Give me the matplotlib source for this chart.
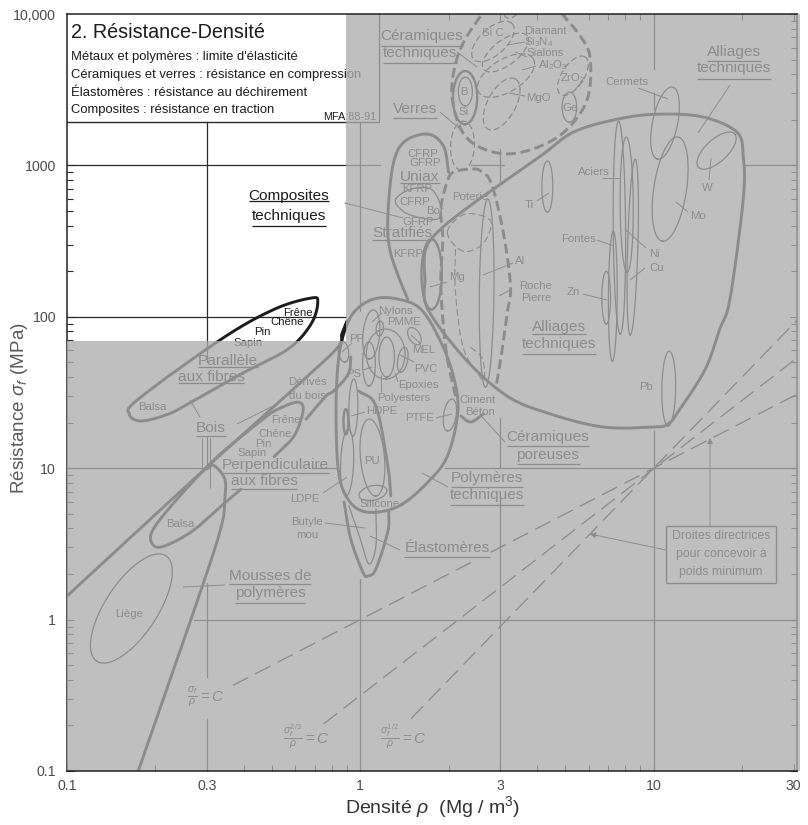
#!/usr/bin/env python3
"""Ashby map, strength against density, drawn on log-log axes and saved to out.png."""

import matplotlib

matplotlib.use("Agg")
import matplotlib.pyplot as plt
import numpy as np
from matplotlib.ticker import NullFormatter

plt.rcParams["font.family"] = ["Liberation Sans", "DejaVu Sans"]
plt.rcParams["mathtext.fontset"] = "custom"
plt.rcParams["mathtext.rm"] = "Liberation Sans"
plt.rcParams["mathtext.it"] = "Liberation Sans:italic"

W, H = 808, 825
INK = "#1c1c1c"

# axis values
X_MAJOR = [0.1, 0.3, 1, 3, 10, 30]
X_LABELS = ["0.1", "0.3", "1", "3", "10", "30"]
X_MINOR = [0.2, 0.4, 0.5, 0.6, 0.7, 0.8, 0.9, 2, 4, 5, 6, 7, 8, 9, 20]
Y_MAJOR = [0.1, 1, 10, 100, 1000, 10000]
Y_LABELS = ["0.1", "1", "10", "100", "1000", "10,000"]
XLIM = (0.1, 30.8)
YLIM = (0.1, 10000)

# class envelopes, (density Mg/m3, strength MPa)
WOOD_PARALLEL = [(0.163, 22.8), (0.179, 20.5), (0.222, 22.8), (0.265, 27.3), (0.392, 41.9),
                 (0.567, 61.2), (0.679, 89.5), (0.716, 125), (0.679, 133), (0.508, 112),
                 (0.336, 71.3), (0.175, 28.6)]
WOOD_PERP = [(0.508, 11.9), (0.594, 16.3), (0.638, 23.9), (0.613, 27.3), (0.525, 24.6),
             (0.466, 21.1), (0.349, 13.4), (0.295, 9.87), (0.232, 5.95), (0.197, 3.97),
             (0.194, 3.25), (0.21, 3.02), (0.265, 3.79), (0.336, 5.64), (0.392, 7.27)]
FOAM_LEFT = [(0.1, 1.43), (0.295, 9.87), (0.628, 37.1), (0.838, 62.9), (0.865, 76.9), (0.9, 93.7)]
FOAM_RIGHT = [(0.175, 0.1), (0.287, 1.59), (0.336, 4.15), (0.345, 6.25), (0.345, 8.47),
              (0.317, 10.4), (0.3, 9.87)]
WOOD_PRODUCTS = [(0.653, 21.1), (0.763, 29.9), (0.81, 32.3), (0.91, 41.9), (0.928, 54.3)]
POLYMERS = [(1.39, 5.79), (1.15, 5.13), (0.98, 5.37), (0.88, 6.95), (0.838, 10.4), (0.826, 23.5),
            (0.838, 47.3), (0.873, 74.7), (0.95, 107), (1.11, 131), (1.34, 131), (1.61, 112),
            (1.88, 68.3), (2.08, 40), (2.15, 23.5), (1.98, 12), (1.7, 8.1)]
ELASTOMERS = [(0.88, 5.98), (0.928, 3.4), (1.02, 2.06), (1.06, 1.94), (1.13, 2.16), (1.24, 3.79),
              (1.25, 5.13)]
BUTYL = [(0.914, 5.64), (1.0, 3.4), (1.07, 2.33), (1.13, 3.06), (1.13, 5.37)]
HDPE_ARC = [(0.99, 32.3), (1.13, 25.7), (1.24, 10.4), (1.27, 6.55)]
METALS = [(1.7, 112), (1.66, 177), (1.67, 280), (1.88, 380), (2.41, 556), (2.78, 676), (4.11, 1150),
          (5.33, 1660), (7.52, 2020), (10.3, 2180), (14.7, 2090), (19.2, 1660), (20.2, 1150),
          (20.2, 600), (18.2, 131), (16.8, 83), (15, 45.2), (12.3, 24.6), (11.2, 19.6),
          (9.96, 18.7), (6.73, 18.7), (4.45, 22.8), (3.17, 29.9), (2.28, 52.6)]
COMPOSITES = [(1.45, 131), (1.34, 191), (1.26, 280), (1.24, 442), (1.29, 989), (1.41, 1430),
              (1.7, 1610), (1.92, 1340), (2.0, 904)]
UNIAX_LENS = [(1.32, 600), (1.49, 698), (1.74, 698), (1.88, 538), (1.83, 442), (1.52, 463), (1.37, 515)]
CERAMICS = [(2.74, 11600), (2.25, 6530), (2.08, 4130), (2.06, 2740), (2.2, 1740), (2.51, 1340),
            (3.17, 1190), (4.11, 1340), (5.08, 1740), (5.94, 2740), (6.08, 5040), (5.62, 7150),
            (4.55, 11600)]
POROUS = [(2.11, 29.9), (1.98, 52.6), (1.91, 96.6), (1.88, 177), (1.91, 326), (1.88, 515),
          (1.98, 787), (2.08, 904), (2.38, 946), (2.57, 918), (2.8, 753), (3.07, 363),
          (3.25, 160), (3.17, 107), (3.01, 52.6), (2.89, 33.3)]
CEMENT = [(2.2, 22.1), (2.38, 20.2), (2.63, 22.8)]
POTTERY = [(1.98, 363), (2.28, 477), (2.78, 430), (2.61, 302), (2.23, 272)]
ROCK_LEFT = [(2.11, 280), (2.11, 146), (2.25, 61.2), (2.63, 37.1)]
ROCK_RIGHT = [(2.38, 62.9), (2.61, 52.6), (2.66, 37.1)]

# material bubbles: tip density, tip strength, other tip density, other tip strength, width / length
BUBBLES_THIN = [
    (0.218, 2.63, 0.126, 0.533, 0.42),  # Liege
    (4.34, 1070, 4.34, 491, 0.22),  # Ti
    (7.59, 1960, 7.69, 76.9, 0.06),  # Aciers
    (8.06, 1540, 8.12, 197, 0.1),  # Ni
    (8.65, 1100, 8.32, 75.7, 0.06),  # Cu
    (7.28, 368, 7.23, 51, 0.07),  # Fontes
    (6.89, 200, 6.89, 89.5, 0.17),  # Zn
    (12.1, 1540, 10.7, 316, 0.32),  # Mo
    (11.6, 3290, 10.3, 1100, 0.35),  # Cermets
    (14.2, 974, 18.9, 1610, 0.45),  # W
    (11.3, 59.3, 11.2, 19, 0.19),  # Pb
    (2.72, 600, 2.67, 34.3, 0.08),  # Al
    (2.28, 3830, 2.28, 2470, 0.5),  # B
    (5.16, 3050, 5.16, 1930, 0.5),  # Ge
    (1.11, 111, 1.07, 52.6, 0.35),  # Nylons
    (1.17, 93.7, 1.16, 74.7, 0.5),  # PMME
    (1.22, 83, 1.22, 38.8, 0.8),  # Epoxies
    (1.23, 73.5, 1.23, 40, 0.4),  # Polyesters
    (1.47, 84.2, 1.59, 66, 0.6),  # MEL
    (1.42, 62.9, 1.37, 43.1, 0.4),  # PVC
    (0.865, 69, 0.887, 50.2, 0.5),  # PP
    (1.07, 68.3, 1.07, 34.9, 0.3),  # PS
    (0.95, 38.8, 0.943, 16.3, 0.16),  # HDPE
    (0.91, 18.1, 0.893, 6.55, 0.2),  # LDPE
    (1.07, 21.1, 1.13, 6.55, 0.32),  # PU
    (0.99, 6.55, 1.23, 7.17, 0.5),  # Silicone
    (2.06, 28.6, 1.98, 17.6, 0.4),  # PTFE
]
BUBBLES_HEAVY = [
    (2.28, 4200, 2.27, 1870, 0.47),  # Si
    (1.75, 326, 1.75, 112, 0.3),  # KFRP
    (0.893, 24.6, 0.893, 16.8, 0.2),
]
BUBBLES_DASHED = [
    (2.25, 1960, 2.21, 927, 0.5),  # Verres
    (2.43, 5040, 3.3, 8590, 0.5),  # SiC
    (2.63, 4330, 3.71, 7150, 0.45),  # Si3N4
    (2.53, 3050, 3.89, 5040, 0.5),  # Al2O3
    (2.72, 1740, 3.38, 3720, 0.5),  # MgO
    (4.81, 2950, 5.85, 5190, 0.5),  # ZrO2
    (3.13, 9550, 3.52, 12600, 0.6),  # Diamant
]

# design guide lines, sigma at the ends of each drawn stretch
GUIDE_1_A = ([0.368, 2.43], [0.368, 2.43])
GUIDE_1_B = ([2.78, 30.8], [2.78, 30.8])
GUIDE_23 = ([0.75, 31], [0.205, 54])
GUIDE_12 = ([1.49, 31], [0.222, 96])

# plot frame lines kept as reference grid (value, from, to)
GRID_H = [(1000, 0.1, 1.17), (1000, 2.38, 3.1), (1000, 20.2, 30.8), (100, 0.1, 0.893),
          (10, 0.1, 0.3), (10, 0.69, 0.84), (10, 1.95, 30.8), (1, 0.27, 30.8)]
GRID_V = [(0.3, 50, 1930), (0.3, 10, 16), (0.3, 0.42, 1.75), (0.3, 0.1, 0.22),
          (1, 110, 1930), (1, 0.1, 1.85), (3, 775, 1280), (3, 10, 21.5), (3, 0.1, 6.6),
          (10, 4330, 10000), (10, 2360, 3000), (10, 0.1, 17.5)]
# corner of the title block
BOX_RHO = [0.1, 1.16, 1.16]
BOX_SIGMA = [1930, 1930, 10000]

# annotation lines, in image pixels
LEADERS = [((345, 203), (403, 218)), ((457, 52), (477, 67)), ((440, 112), (460, 129)),
           ((730, 85), (698, 133)), ((638, 88), (668, 99)), ((602, 178), (619, 178)),
           ((537, 201), (549, 193)), ((709, 180), (711, 158)), ((676, 202), (688, 212)),
           ((597, 240), (614, 246)), ((626, 230), (646, 248)), ((630, 280), (645, 268)),
           ((483, 275), (513, 263)), ((430, 287), (447, 282)), ((499, 296), (512, 289)),
           ((583, 294), (607, 300)), ((507, 45), (525, 42)), ((515, 52), (527, 57)),
           ((522, 70), (536, 66)), ((509, 93), (525, 96)), ((575, 90), (583, 80)),
           ((372, 322), (382, 313)), ((411, 335), (421, 344)), ((400, 355), (414, 362)),
           ((395, 373), (398, 382)), ((381, 375), (381, 392)), ((351, 416), (365, 412)),
           ((436, 418), (452, 414)), ((323, 493), (347, 477)), ((325, 523), (365, 528)),
           ((342, 352), (352, 343)), ((363, 370), (372, 367)), ((200, 417), (190, 400)),
           ((237, 424), (275, 405)), ((202, 438), (202, 470)), ((210, 438), (210, 488)),
           ((183, 587), (225, 585)), ((400, 550), (370, 536)), ((448, 487), (422, 473)),
           ((505, 442), (482, 417))]
SMALL_LABELS = [
    ("Diamant", 545, 31), ("Si$_3$N$_4$", 539, 42), ("Sialons", 545, 53), ("Al$_2$O$_3$", 553, 65),
    ("ZrO$_2$", 573, 78), ("MgO", 538, 98), ("Ge", 570, 108), ("B", 464, 92), ("Si", 464, 112),
    ("Si C", 493, 33), ("Cermets", 627, 82), ("Aciers", 594, 172), ("Ti", 529, 205), ("W", 707, 188),
    ("Mo", 698, 216), ("Poterie", 470, 197), ("Fontes", 579, 239), ("Ni", 655, 254), ("Cu", 657, 268),
    ("Al", 520, 261), ("Mg", 457, 277), ("Roche", 536, 286), ("Pierre", 536, 298), ("Zn", 573, 292),
    ("Pb", 646, 387), ("Nylons", 395, 311), ("PMME", 404, 322), ("PP", 357, 339), ("MEL", 424, 350),
    ("PVC", 426, 369), ("PS", 354, 374), ("Epoxies", 418, 385), ("Polyesters", 404, 398),
    ("HDPE", 382, 411), ("PTFE", 420, 418), ("Ciment", 478, 400), ("Béton", 480, 412), ("PU", 372, 461),
    ("Silicone", 380, 504), ("LDPE", 305, 499), ("Butyle", 307, 522), ("mou", 307, 535),
    ("Frêne", 298, 313), ("Chêne", 287, 322), ("Pin", 262, 332), ("Sapin", 248, 343),
    ("Balsa", 152, 407), ("Dérivés", 307, 382), ("du bois", 307, 396), ("Frêne", 286, 420),
    ("Chêne", 275, 434), ("Pin", 263, 444), ("Sapin", 252, 453), ("Balsa", 180, 524), ("Liège", 129, 614),
    ("CFRP", 423, 154), ("GFRP", 425, 163), ("KFRP", 417, 189), ("CFRP", 415, 202), ("GFRP", 418, 222),
    ("KFRP", 408, 254), ("Bor", 435, 211),
]
# text, centre x, centre y, underline y
HEADINGS = [
    ("Composites", 289, 196, 201), ("techniques", 289, 216, 226),
    ("Céramiques", 422, 36, 46), ("techniques", 420, 53, 63), ("Verres", 415, 109, 118),
    ("Alliages", 734, 52, 61), ("techniques", 734, 68, 79), ("Uniax", 420, 177, 183),
    ("Stratifiés", 402, 233, 240), ("Bois", 211, 428, 436), ("Parallèle", 228, 361, 367),
    ("aux fibres", 211, 377, 383), ("Perpendiculaire", 275, 465, 473), ("aux fibres", 264, 481, 489),
    ("Mousses de", 270, 576, 584), ("polymères", 270, 593, 603), ("Élastomères", 447, 548, 557),
    ("Polymères", 487, 478, 487), ("techniques", 487, 495, 505), ("Céramiques", 548, 437, 446),
    ("poreuses", 548, 455, 464), ("Alliages", 559, 327, 334), ("techniques", 559, 344, 354),
]
INFO_LINES = ["Métaux et polymères : limite d'élasticité", "Céramiques et verres : résistance en compression",
              "Élastomères : résistance au déchirement", "Composites : résistance en traction"]
GUIDE_BOX_LINES = ["Droites directrices", "pour concevoir à", "poids minimum"]


def smooth(pts, closed=False, n=14):
    # Catmull-Rom through the read points, in log space
    p = np.log10(np.array(pts, dtype=float))
    if closed:
        p = np.vstack([p[-1], p, p[0], p[1]])
    else:
        p = np.vstack([2 * p[0] - p[1], p, 2 * p[-1] - p[-2]])
    t = np.linspace(0, 1, n, endpoint=False)[:, None]
    out = []
    for i in range(1, len(p) - 2):
        a, b, c, d = p[i - 1 : i + 3]
        out.append(0.5 * (2 * b + (c - a) * t + (2 * a - 5 * b + 4 * c - d) * t**2
                          + (3 * b - a - 3 * c + d) * t**3))
    out.append(p[-2:-1])
    q = 10 ** np.vstack(out)
    return q[:, 0], q[:, 1]


def bubble(r1, s1, r2, s2, ratio):
    # oval between two tips, round on screen where one x decade is about two y decades
    a = np.array([2 * np.log10(r1), np.log10(s1)])
    b = np.array([2 * np.log10(r2), np.log10(s2)])
    mid, half = (a + b) / 2, (b - a) / 2
    normal = np.array([-half[1], half[0]]) * ratio
    t = np.linspace(0, 2 * np.pi, 90)[:, None]
    q = mid + np.cos(t) * half + np.sin(t) * normal
    return 10 ** (q[:, 0] / 2), 10 ** q[:, 1]


fig = plt.figure(figsize=(W / 100, H / 100), dpi=100, facecolor="white")
ax = fig.add_axes([67 / W, 1 - 771 / H, 730 / W, 757 / H])
ax.set_xscale("log")
ax.set_yscale("log")
ax.set_autoscale_on(False)
ax.set_xlim(XLIM)
ax.set_ylim(YLIM)
ax.set_facecolor("none")
renderer = fig.canvas.get_renderer()


def px(x, y):
    return x / W, 1 - y / H


def label(x, y, s, size=8.2, **kw):
    fx, fy = px(x, y)
    kw.setdefault("ha", "center")
    kw.setdefault("va", "center")
    kw.setdefault("color", INK)
    return ax.text(fx, fy, s, transform=fig.transFigure, fontsize=size, clip_on=False, zorder=3, **kw)


def px_line(a, b, lw=0.7):
    fa, fb = px(*a), px(*b)
    ax.plot([fa[0], fb[0]], [fa[1], fb[1]], transform=fig.transFigure, color=INK, lw=lw,
            clip_on=False, zorder=3, solid_capstyle="butt")


# reference grid
for val, lo, hi in GRID_H:
    ax.plot([lo, hi], [val, val], color="#2a2a2a", lw=0.9, zorder=1)
for val, lo, hi in GRID_V:
    ax.plot([val, val], [lo, hi], color="#2a2a2a", lw=0.9, zorder=1)
ax.plot(BOX_RHO, BOX_SIGMA, color="#2a2a2a", lw=1.0, zorder=1)

# class envelopes
for pts, closed in [(WOOD_PARALLEL, True), (WOOD_PERP, False), (FOAM_LEFT, False), (FOAM_RIGHT, False),
                    (WOOD_PRODUCTS, False), (POLYMERS, True), (ELASTOMERS, False), (HDPE_ARC, False),
                    (METALS, True), (COMPOSITES, False), (CEMENT, False)]:
    ax.plot(*smooth(pts, closed), color=INK, lw=2.1, zorder=2, solid_capstyle="round")
for pts, closed in [(BUTYL, False), (UNIAX_LENS, True)]:
    ax.plot(*smooth(pts, closed), color=INK, lw=0.9, zorder=2)
for pts in [CERAMICS, POROUS]:
    ax.plot(*smooth(pts), color=INK, lw=2.1, ls=(0, (3.4, 1.6)), zorder=2)
ax.plot(*smooth(POTTERY, True), color=INK, lw=0.8, ls=(0, (6, 3)), zorder=2)
for pts in [ROCK_LEFT, ROCK_RIGHT]:
    ax.plot(*smooth(pts), color=INK, lw=0.8, ls=(0, (6, 3)), zorder=2)

for spec in BUBBLES_THIN:
    ax.plot(*bubble(*spec), color=INK, lw=0.9, zorder=2)
for spec in BUBBLES_HEAVY:
    ax.plot(*bubble(*spec), color=INK, lw=1.7, zorder=2)
for spec in BUBBLES_DASHED:
    ax.plot(*bubble(*spec), color=INK, lw=0.9, ls=(0, (5, 2.5)), zorder=2)

# guide lines
for rho, sig in [GUIDE_1_A, GUIDE_1_B, GUIDE_23, GUIDE_12]:
    ax.plot(rho, sig, color=INK, lw=0.95, ls=(0, (13, 6)), zorder=2)

# leaders, labels
for a, b in LEADERS:
    px_line(a, b)
for s, x, y in SMALL_LABELS:
    label(x, y, s)
for s, x, y, uy in HEADINGS:
    t = label(x, y, s, size=11.1)
    bb = t.get_window_extent(renderer)
    px_line((bb.x0, uy), (bb.x1, uy), lw=0.9)

label(71, 33, "2. Résistance-Densité", size=14.2, ha="left")
for y, s in zip([57, 75, 93, 110], INFO_LINES):
    label(71, y, s, size=9.4, ha="left")
label(376, 117, "MFA:88-91", size=7.8, ha="right")

for y, s in zip([536, 554, 572], GUIDE_BOX_LINES):
    label(721, y, s, size=8.8)
for a, b in [((666, 526), (776, 526)), ((776, 526), (776, 583)), ((776, 583), (666, 583)), ((666, 583), (666, 526))]:
    px_line(a, b, lw=1.0)
for start, end in [((666, 550), (590, 534)), ((710, 526), (710, 438))]:
    ax.annotate("", xy=px(*end), xytext=px(*start), xycoords="figure fraction", textcoords="figure fraction",
                arrowprops=dict(arrowstyle="-|>", color=INK, lw=0.7, mutation_scale=8, shrinkA=0, shrinkB=0),
                zorder=3)
label(206, 697, r"$\frac{\sigma_f}{\rho}=C$", size=11)
label(306, 737, r"$\frac{\sigma_f^{2/3}}{\rho}=C$", size=11)
label(403, 737, r"$\frac{\sigma_f^{1/2}}{\rho}=C$", size=11)

# the shaded overlay fades whatever lies under it
ax.fill([XLIM[0], 0.893, 0.893, 31.5, 31.5, XLIM[0]], [69, 69, YLIM[1], YLIM[1], YLIM[0], YLIM[0]],
        facecolor="#adadad", edgecolor="none", alpha=0.775, zorder=10, clip_on=False)

# axes
ax.set_xticks(X_MAJOR, X_LABELS)
ax.set_xticks(X_MINOR, minor=True)
ax.set_yticks(Y_MAJOR, Y_LABELS)
ax.set_yticks([m * d for d in Y_MAJOR[:-1] for m in range(2, 10)], minor=True)
ax.xaxis.set_minor_formatter(NullFormatter())
ax.yaxis.set_minor_formatter(NullFormatter())
ax.tick_params(which="both", direction="in", top=True, right=True, color="#2a2a2a", width=0.8)
ax.tick_params(which="major", length=5, labelsize=10.2, labelcolor="#4c4c4c")
ax.tick_params(which="minor", length=4.5)
ax.tick_params(axis="x", which="major", pad=6)
ax.tick_params(axis="y", which="major", pad=8)
ax.set_xlim(XLIM)
ax.set_ylim(YLIM)
for side, spine in ax.spines.items():
    spine.set_linewidth(1.1)
    spine.set_color("#222222")
    spine.set_zorder(11 if side in ("top", "bottom") else 1)

# the title block hides the ticks behind it; x ticks stay dark above the shading
for which in (True, False):
    locs = ax.xaxis.get_minorticklocs() if which else ax.xaxis.get_majorticklocs()
    for loc, tick in zip(locs, ax.xaxis.get_minor_ticks() if which else ax.xaxis.get_major_ticks()):
        tick.set_zorder(11)
        if loc < 1.16:
            tick.tick2line.set_visible(False)
    locs = ax.yaxis.get_minorticklocs() if which else ax.yaxis.get_majorticklocs()
    for loc, tick in zip(locs, ax.yaxis.get_minor_ticks() if which else ax.yaxis.get_major_ticks()):
        if loc > 1900:
            tick.tick1line.set_visible(False)

fig.text(20 / W, 1 - 408 / H, r"Résistance $\sigma_f$ (MPa)", rotation=90, ha="center", va="center",
         fontsize=13.6, color="#5a5a5a")
fig.text(433 / W, 1 - 807 / H, r"Densité $\rho$  (Mg / m$^3$)", ha="center", va="center",
         fontsize=14, color="#333333")

fig.savefig("out.png", dpi=100, facecolor="white")
